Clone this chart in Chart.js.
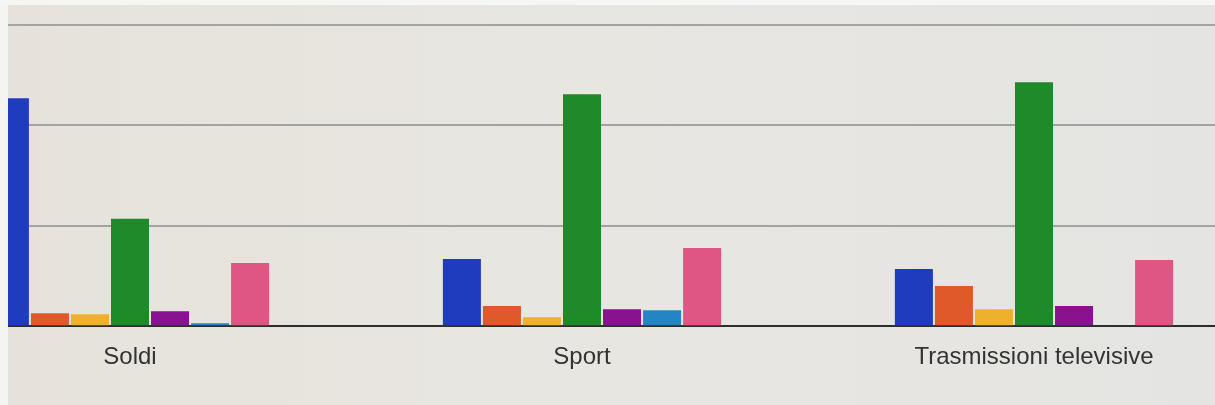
<!DOCTYPE html>
<html>
<head>
<meta charset="utf-8">
<script src="https://cdn.jsdelivr.net/npm/chart.js@4"></script>
<style>
    html, body {
        margin: 0;
        padding: 0;
        width: 1215px;
        height: 405px;
        overflow: hidden;
        background: linear-gradient(90deg, #e6e2db 0%, #e8e6e1 45%, #e4e4e2 100%);
    }
    .chart-box {
        position: absolute;
        left: -96px;
        top: 0;
        width: 1356px;
        height: 405px;
    }
    .edge-left {
        position: absolute; left: 0; top: 0; width: 8px; height: 405px; background: #f4f4f2;
    }
    .edge-top {
        position: absolute; left: 0; top: 0; width: 1215px; height: 5px; background: #f6f6f4;
    }
</style>
</head>
<body>
<div class="chart-box"><canvas id="barChart"></canvas></div>
<div class="edge-left"></div>
<div class="edge-top"></div>
<script>
// Categories and series (one grid step = 10)
const categories = ['Soldi', 'Sport', 'Trasmissioni televisive'];
const serie1 = [22.7, 6.7, 5.7];
const serie2 = [1.3, 2.0, 4.0];
const serie3 = [1.2, 0.9, 1.7];
const serie4 = [10.7, 23.1, 24.3];
const serie5 = [1.5, 1.7, 2.0];
const serie6 = [0.3, 1.6, 0];
const serie7 = [6.3, 7.8, 6.6];

const colors = ['#1f3cbf', '#e0592b', '#efb02e', '#1f8a29', '#881290', '#2585c4', '#df5584'];

function makeDataset(label, data, color) {
    return {
        label: label,
        data: data,
        backgroundColor: color,
        borderWidth: 0,
        barPercentage: 0.95,
        categoryPercentage: 0.62
    };
}

function renderChart() {
    const ctx = document.getElementById('barChart').getContext('2d');
    new Chart(ctx, {
        type: 'bar',
        data: {
            labels: categories,
            datasets: [
                makeDataset('Serie 1', serie1, colors[0]),
                makeDataset('Serie 2', serie2, colors[1]),
                makeDataset('Serie 3', serie3, colors[2]),
                makeDataset('Serie 4', serie4, colors[3]),
                makeDataset('Serie 5', serie5, colors[4]),
                makeDataset('Serie 6', serie6, colors[5]),
                makeDataset('Serie 7', serie7, colors[6])
            ]
        },
        options: {
            responsive: true,
            maintainAspectRatio: false,
            animation: false,
            layout: { padding: { top: 25, bottom: 24, left: 0, right: 0 } },
            plugins: {
                legend: { display: false },
                tooltip: { enabled: false }
            },
            scales: {
                x: {
                    grid: { display: false },
                    border: { display: true, color: '#2e2e2e', width: 2 },
                    ticks: {
                        color: '#333333',
                        padding: 9,
                        font: { family: 'Liberation Sans', size: 24 }
                    }
                },
                y: {
                    min: 0,
                    max: 30,
                    ticks: { display: false, stepSize: 10 },
                    border: { display: false },
                    grid: { color: '#a3a3a1', lineWidth: 2, drawTicks: false }
                }
            }
        }
    });
}

document.addEventListener('DOMContentLoaded', renderChart);
</script>
</body>
</html>
